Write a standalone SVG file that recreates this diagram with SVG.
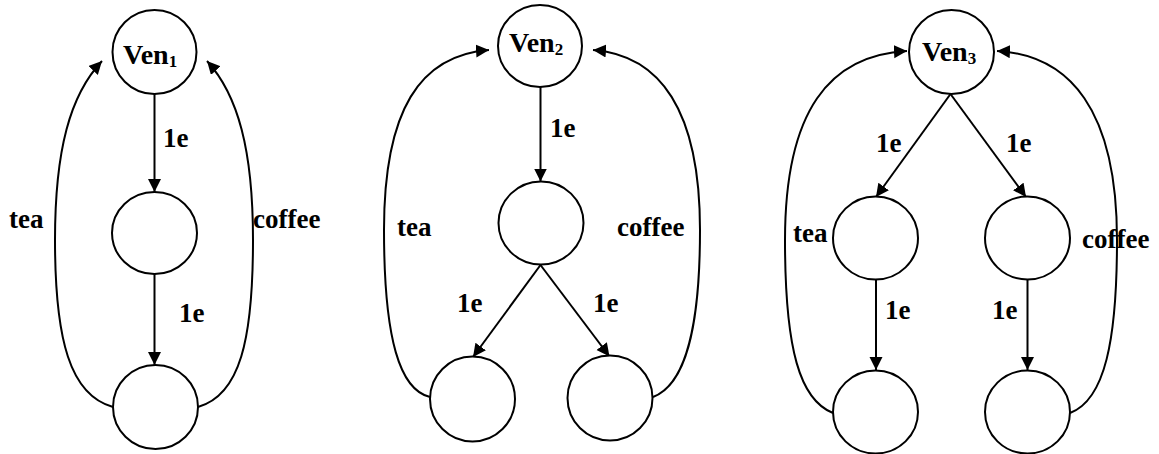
<svg xmlns="http://www.w3.org/2000/svg" width="1159" height="454" viewBox="0 0 1159 454">
<style>
.n{fill:#fff;stroke:#000;stroke-width:2}
.c{fill:none;stroke:#000;stroke-width:2;marker-end:url(#ah)}
text{font-family:'Liberation Serif','Times New Roman','DejaVu Serif',serif;font-weight:bold;font-size:27px;fill:#000}
.v{font-size:28px}
.s{font-size:17px}
</style>
<defs>
<marker id="ah" markerUnits="userSpaceOnUse" markerWidth="14" markerHeight="14" refX="13" refY="6.5" orient="auto">
<path d="M0,0 L13,6.5 L0,13 z" fill="#000"/>
</marker>
</defs>
<rect width="1159" height="454" fill="#fff"/>
<g id="connectors">
<path class="c" d="M154.5 94 L154.5 192"/>
<path class="c" d="M154.5 274 L154.5 365"/>
<path class="c" d="M113 407 C70 395,55 340,55 240 C55 150,70 95,102 61"/>
<path class="c" d="M198 407 C240 395,253 340,253 240 C253 150,238 95,207 61"/>
<path class="c" d="M540.5 87 L540.5 181.5"/>
<path class="c" d="M540.5 265 L473 357"/>
<path class="c" d="M540.5 265 L609.5 356.5"/>
<path class="c" d="M430 397 C400 390,384 340,384 230 C384 110,420 55,489 50"/>
<path class="c" d="M653 397 C685 385,700 330,700 230 C700 110,660 55,593 50"/>
<path class="c" d="M950.5 94 L876 197"/>
<path class="c" d="M950.5 94 L1026 197"/>
<path class="c" d="M876 280 L876 370"/>
<path class="c" d="M1027.5 280 L1027.5 370"/>
<path class="c" d="M833 413 C800 400,785 350,785 240 C785 110,830 55,907 51"/>
<path class="c" d="M1070 413 C1105 400,1117 340,1117 240 C1117 110,1070 55,997 51"/>
</g>
<g id="ven1"><ellipse class="n" cx="154.5" cy="52" rx="42" ry="42"/><text class="v" x="123" y="64" font-family="Liberation Serif, serif">Ven<tspan class="s" dy="3">1</tspan></text></g>
<g id="d1mid"><ellipse class="n" cx="154.5" cy="233" rx="42.5" ry="41"/></g>
<g id="d1bot"><ellipse class="n" cx="155.5" cy="407" rx="42.5" ry="42"/></g>
<g id="ven2"><ellipse class="n" cx="540" cy="46" rx="42" ry="41"/><text class="v" x="509" y="52">Ven<tspan class="s" dy="3">2</tspan></text></g>
<g id="d2mid"><ellipse class="n" cx="541" cy="223" rx="42.5" ry="41.5"/></g>
<g id="d2botl"><ellipse class="n" cx="472.5" cy="399" rx="42.5" ry="42.5"/></g>
<g id="d2botr"><ellipse class="n" cx="610" cy="398" rx="42.5" ry="42.5"/></g>
<g id="ven3"><ellipse class="n" cx="951.5" cy="52" rx="42.5" ry="42"/><text class="v" x="922" y="61">Ven<tspan class="s" dy="3">3</tspan></text></g>
<g id="d3midl"><ellipse class="n" cx="875.5" cy="238" rx="42.5" ry="41.5"/></g>
<g id="d3midr"><ellipse class="n" cx="1027.5" cy="238" rx="42.5" ry="41.5"/></g>
<g id="d3botl"><ellipse class="n" cx="875.5" cy="412" rx="42.5" ry="41.5"/></g>
<g id="d3botr"><ellipse class="n" cx="1027.5" cy="412" rx="42.5" ry="41.5"/></g>
<g id="labels">
<text x="163" y="147">1e</text>
<text x="179" y="322">1e</text>
<text x="9" y="228">tea</text>
<text x="253" y="228">coffee</text>
<text x="550" y="137">1e</text>
<text x="457" y="312">1e</text>
<text x="593" y="312">1e</text>
<text x="397" y="236">tea</text>
<text x="617" y="236">coffee</text>
<text x="876" y="152">1e</text>
<text x="1006" y="152">1e</text>
<text x="885" y="319">1e</text>
<text x="992" y="319">1e</text>
<text x="793" y="242">tea</text>
<text x="1082" y="248">coffee</text>
</g>
</svg>
